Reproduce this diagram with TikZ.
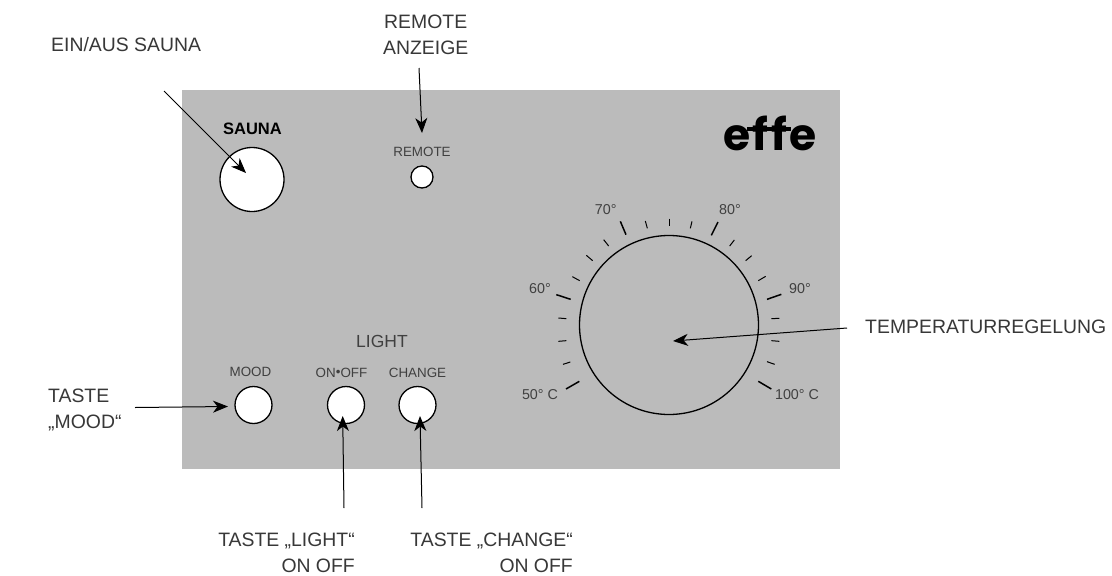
\documentclass[tikz,border=0pt]{standalone}
\usepackage{fontspec}
\setmainfont{Liberation Sans}
\newfontfamily\logofont[LetterSpace=5.5]{Poppins}
\usetikzlibrary{arrows.meta}
\definecolor{panelgray}{HTML}{BBBBBB}
\definecolor{labelgray}{HTML}{404040}
\definecolor{calloutgray}{HTML}{383838}
\tikzset{
  panel/.style={fill=panelgray,draw=none},
  knob/.style={circle,draw=black,fill=white,line width=1.3pt,inner sep=0pt},
  dial/.style={circle,draw=black,line width=1.3pt,inner sep=0pt,minimum size=179pt},
  callout/.style={font=\fontsize{19.4}{26}\selectfont,text=calloutgray,inner sep=0pt},
  small/.style={font=\fontsize{13.4}{16}\selectfont,text=labelgray,inner sep=0pt},
  scalelabel/.style={font=\fontsize{14.3}{16}\selectfont,text=labelgray,inner sep=0pt},
  pointer/.style={-{Stealth[length=15pt,width=12pt,inset=4.5pt]},line width=1pt,draw=black},
  major/.style={line width=1.5pt,draw=black},
  minor/.style={line width=1pt,draw=black}
}
\begin{document}
\begin{tikzpicture}[x=1pt,y=-1pt]
\useasboundingbox (0,0) rectangle (1112,576);
\fill[white] (0,0) rectangle (1112,576);
\path[panel] (182,90) rectangle (840,469);
% logo
\node[inner sep=0pt,text=black,anchor=base] (logo) at (770,150) {\logofont\bfseries\fontsize{44}{44}\selectfont effe};
\fill[black] (747,127) rectangle (791,131);
% knobs
\node[knob,minimum size=64pt] (sauna) at (252,179.5) {};
\node[knob,minimum size=22pt] (remote) at (422,177) {};
\node[knob,minimum size=37pt] (mood) at (253.5,405) {};
\node[knob,minimum size=37pt] (onoff) at (346,405) {};
\node[knob,minimum size=37pt] (change) at (417.5,405) {};
\node[dial] (dialc) at (669,325) {};
% panel labels
\node[small,font=\bfseries\fontsize{16.5}{18}\selectfont,text=black] (saunal) at (252.5,129) {SAUNA};
\node[small] (remotel) at (422,152) {REMOTE};
\node[small] (moodl) at (250.5,372) {MOOD};
\node[small] (onoffl) at (341.5,373) {ON\raisebox{0.2ex}{\textbullet}OFF};
\node[small] (changel) at (417.5,373) {CHANGE};
\node[small,font=\fontsize{17.5}{18}\selectfont] (lightl) at (382,341) {LIGHT};
% scale labels
\node[scalelabel] (t50) at (540,395) {50° C};
\node[scalelabel] (t60) at (540,289) {60°};
\node[scalelabel] (t70) at (605.7,210) {70°};
\node[scalelabel] (t80) at (730,210) {80°};
\node[scalelabel] (t90) at (800,289) {90°};
\node[scalelabel] (t100) at (797,395) {100° C};
% ticks
\foreach \a/\b/\c/\d in {198/597/238/574,169/314/212/328,361/94/378/134,654/96/634/136,844/313/801/328,814/597/775/574}
  \draw[major] ({500+\a/3},{190+\b/3}) -- ({500+\c/3},{190+\d/3});
\foreach \a/\b/\c/\d in {189/523/211/516,175/454/199/452,175/384/199/386,217/260/239/272,259/196/278/212,311/149/326/168,436/93/442/115,507/86/507/108,576/94/571/115,703/150/689/168,755/197/737/212,797/259/775/272,838/385/814/386,838/454/814/452,824/523/801/515}
  \draw[minor] ({500+\a/3},{190+\b/3}) -- ({500+\c/3},{190+\d/3});
% callouts
\node[callout,anchor=west] (cein) at (51,45) {EIN/AUS SAUNA};
\node[callout,align=center] (crem) at (425.7,35) {REMOTE\\ANZEIGE};
\node[callout,anchor=west] (ctemp) at (865,327) {TEMPERATURREGELUNG};
\node[callout,align=left,anchor=west] (cmood) at (48,410) {TASTE\\„MOOD“};
\node[callout,align=right,anchor=east] (clight) at (355,553) {TASTE „LIGHT“\\ON OFF};
\node[callout,align=right,anchor=east] (cchange) at (573,553) {TASTE „CHANGE“\\ON OFF};
% arrow ends
\coordinate (a1s) at (164,91);
\coordinate (a1e) at (246,173);
\coordinate (a2s) at (419,68);
\coordinate (a2e) at (422,133);
\coordinate (a3s) at (847,328);
\coordinate (a3e) at (673,341);
\coordinate (a4s) at (135,407.5);
\coordinate (a4e) at (228,406.5);
\coordinate (a5s) at (344,508);
\coordinate (a5e) at (342.7,416);
\coordinate (a6s) at (422,508);
\coordinate (a6e) at (420,416);
\draw[pointer] (a1s) -- (a1e);
\draw[pointer] (a2s) -- (a2e);
\draw[pointer] (a3s) -- (a3e);
\draw[pointer] (a4s) -- (a4e);
\draw[pointer] (a5s) -- (a5e);
\draw[pointer] (a6s) -- (a6e);
\end{tikzpicture}
\end{document}
